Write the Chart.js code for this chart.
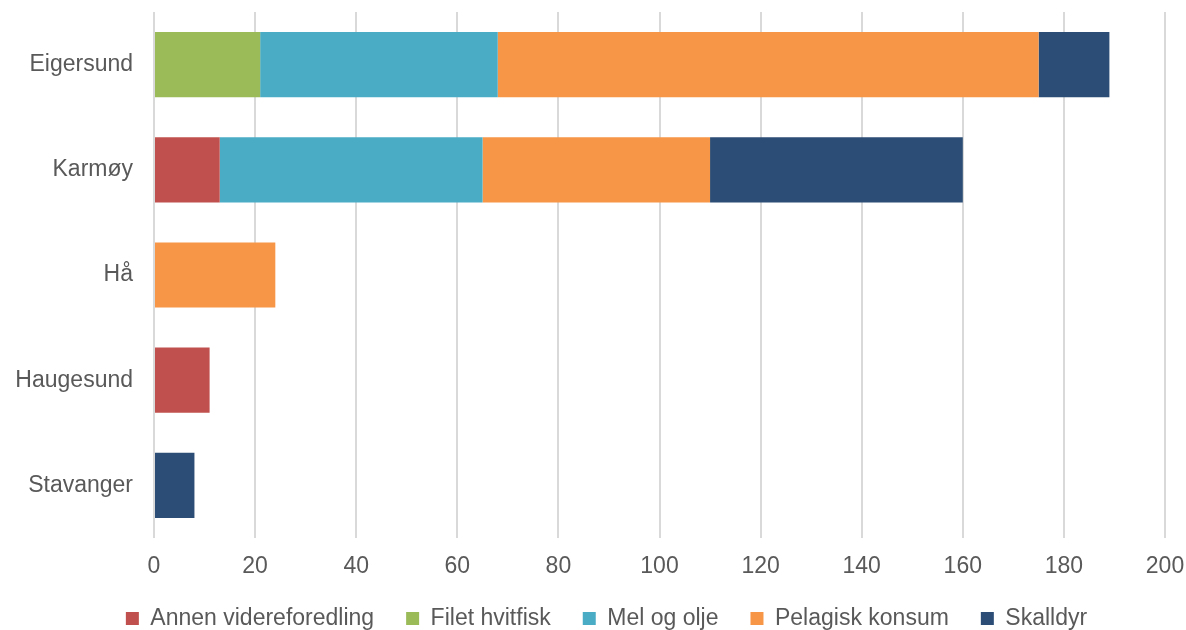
<!DOCTYPE html>
<html>
<head>
<meta charset="utf-8">
<script src="https://cdn.jsdelivr.net/npm/chart.js@4"></script>
<style>
  html, body { margin: 0; padding: 0; background: #fff; overflow: hidden; height: 630px; }
  #wrap { width: 1186px; height: 640px; }
</style>
</head>
<body>
<div id="wrap"><canvas id="chart"></canvas></div>
<script>
  var categories = ['Eigersund', 'Karmøy', 'Hå', 'Haugesund', 'Stavanger'];
  var seriesNames = ['Annen videreforedling', 'Filet hvitfisk', 'Mel og olje', 'Pelagisk konsum', 'Skalldyr'];
  var annen = [0, 13, 0, 11, 0];
  var filet = [21, 0, 0, 0, 0];
  var mel = [47, 52, 0, 0, 0];
  var pelagisk = [107, 45, 24, 0, 0];
  var skalldyr = [14, 50, 0, 0, 8];
  var xTicks = [0, 20, 40, 60, 80, 100, 120, 140, 160, 180, 200];

  var colors = ['#C0504D', '#9BBB59', '#4BACC6', '#F79646', '#2C4D75'];
  var values = [annen, filet, mel, pelagisk, skalldyr];

  Chart.defaults.font.family = "'Liberation Sans', Arial, sans-serif";
  Chart.defaults.color = '#595959';

  /* legend sits a bit right of the canvas centre in the original */
  var legendShift = {
    id: 'legendShift',
    afterLayout: function (chart) { chart.legend.left += 48; }
  };

  new Chart(document.getElementById('chart'), {
    type: 'bar',
    data: {
      labels: categories,
      datasets: seriesNames.map(function (name, i) {
        return {
          label: name,
          data: values[i],
          backgroundColor: colors[i],
          borderWidth: 0,
          categoryPercentage: 1,
          barPercentage: 0.62
        };
      })
    },
    plugins: [legendShift],
    options: {
      indexAxis: 'y',
      responsive: true,
      maintainAspectRatio: false,
      animation: false,
      layout: { padding: { left: 0, right: 21, top: 12, bottom: 0 } },
      plugins: {
        tooltip: { enabled: false },
        legend: {
          position: 'bottom',
          labels: {
            font: { size: 23 },
            color: '#595959',
            boxWidth: 13,
            boxHeight: 13,
            padding: 32
          }
        }
      },
      scales: {
        x: {
          stacked: true,
          min: 0,
          max: 200,
          afterBuildTicks: function (axis) {
            axis.ticks = xTicks.map(function (v) { return { value: v }; });
          },
          grid: { color: '#d9d9d9', lineWidth: 2, drawTicks: false },
          border: { display: false },
          ticks: { font: { size: 23, lineHeight: 1 }, color: '#595959', padding: 17 },
          afterFit: function (axis) {
            axis.height = 37;
            axis.paddingLeft = 0;
            axis.paddingRight = 0;
          }
        },
        y: {
          stacked: true,
          grid: { display: false, drawTicks: false },
          border: { display: false },
          ticks: { font: { size: 23 }, color: '#595959', padding: 21 },
          afterFit: function (axis) {
            axis.width = 154;
            axis.paddingTop = 0;
            axis.paddingBottom = 0;
          }
        }
      }
    }
  });
</script>
</body>
</html>
